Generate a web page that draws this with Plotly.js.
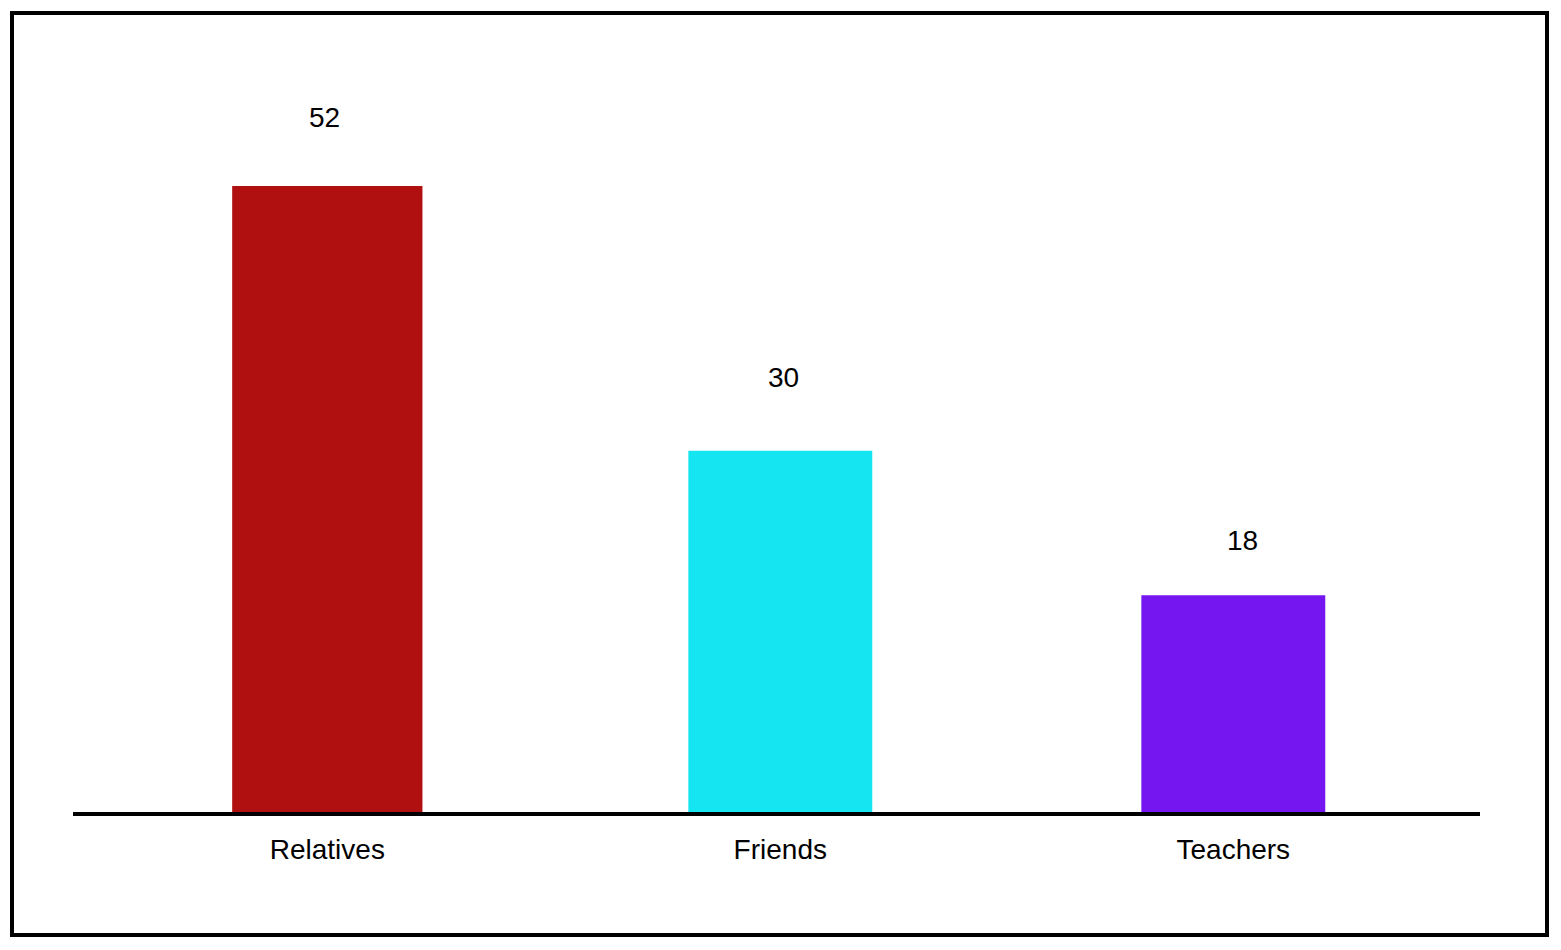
<!DOCTYPE html>
<html>
<head>
<meta charset="utf-8">
<script src="https://cdn.plot.ly/plotly-3.0.1.min.js"></script>
<style>
  html, body { margin: 0; padding: 0; background: #ffffff; }
  #chart { position: absolute; left: 0; top: 0; width: 1561px; height: 950px; }
  #frame { position: absolute; left: 10px; top: 11px; width: 1539px; height: 926px;
           border: 4px solid #000; box-sizing: border-box; pointer-events: none; }
</style>
</head>
<body>
<div id="chart"></div>
<div id="frame"></div>
<script>
const categories = ["Relatives", "Friends", "Teachers"];
const values = [52, 30, 18];
const barColors = ["#B01010", "#14E5F0", "#7516F0"];

// label offsets (pixels) relative to bar top
const labelDx = [-3, 3, 9];
const labelDy = [68, 73, 55];

const trace = {
  type: "bar",
  x: categories,
  y: values,
  width: [0.42, 0.406, 0.406],
  marker: { color: barColors, line: { width: 0 } },
  hoverinfo: "none"
};

const annotations = categories.map((c, i) => ({
  x: c, y: values[i], xref: "x", yref: "y",
  text: String(values[i]),
  showarrow: false,
  xanchor: "center", yanchor: "middle",
  xshift: labelDx[i], yshift: labelDy[i],
  font: { family: "Liberation Sans, Arial, sans-serif", size: 28, color: "#000" }
}));

const layout = {
  width: 1561, height: 950,
  margin: { l: 73, r: 81, t: 60, b: 138 },
  paper_bgcolor: "#ffffff", plot_bgcolor: "#ffffff",
  showlegend: false,
  font: { family: "Liberation Sans, Arial, sans-serif", size: 28, color: "#000" },
  xaxis: {
    type: "category",
    range: [-0.5614, 2.5446],
    showline: true, linecolor: "#000", linewidth: 4,
    showgrid: false, zeroline: false, ticks: "",
    ticklabelstandoff: 9,
    tickfont: { family: "Liberation Sans, Arial, sans-serif", size: 28, color: "#000" }
  },
  yaxis: {
    range: [0, 62.46],
    visible: false, showgrid: false, zeroline: false
  },
  annotations: annotations
};

Plotly.newPlot("chart", [trace], layout, { staticPlot: true, displayModeBar: false });
</script>
</body>
</html>
